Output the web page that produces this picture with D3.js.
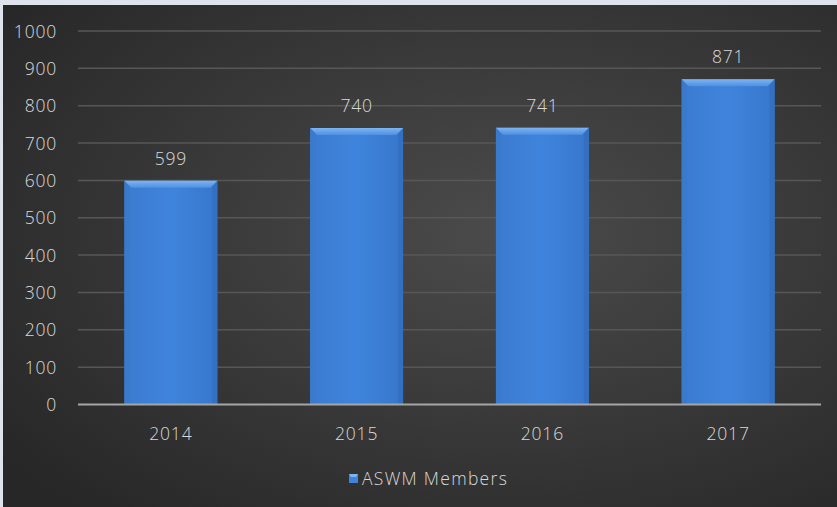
<!DOCTYPE html>
<html><head><meta charset="utf-8">
<script src="https://cdn.jsdelivr.net/npm/d3@7"></script>
<style>
html,body{margin:0;padding:0;background:#dfe4ec;}
svg{display:block;}
text{font-family:"Open Sans","Liberation Sans",sans-serif;fill:#d9d9d9;font-weight:300;}
</style></head>
<body>
<svg id="c" width="837" height="507"></svg>
<script>
const categories = ["2014","2015","2016","2017"];
const values = [599,740,741,871];
const yTicks = [0,100,200,300,400,500,600,700,800,900,1000];
const seriesName = "ASWM Members";

const svg = d3.select("#c");
const W = 837, H = 507;
const defs = svg.append("defs");
const FS = 17.5;
const LS = "0.8px";

const bgGrad = defs.append("radialGradient").attr("id","bg").attr("cx","60%").attr("cy","45%").attr("r","75%");
bgGrad.append("stop").attr("offset","0%").attr("stop-color","#4b4b4b");
bgGrad.append("stop").attr("offset","100%").attr("stop-color","#272727");

const barGrad = defs.append("linearGradient").attr("id","bar").attr("x1","0").attr("x2","1").attr("y1","0").attr("y2","0");
barGrad.append("stop").attr("offset","0%").attr("stop-color","#3b7bd0");
barGrad.append("stop").attr("offset","50%").attr("stop-color","#3f84dc");
barGrad.append("stop").attr("offset","100%").attr("stop-color","#3777cc");

const topGrad = defs.append("linearGradient").attr("id","topface").attr("x1","0").attr("x2","0").attr("y1","0").attr("y2","1");
topGrad.append("stop").attr("offset","0%").attr("stop-color","#7db4f2");
topGrad.append("stop").attr("offset","100%").attr("stop-color","#4f90e2");

svg.append("rect").attr("x",3).attr("y",5).attr("width",W-3).attr("height",H-5).attr("fill","url(#bg)");

const margin = {left:78, right:16, top:31, bottom:102};
const x = d3.scaleBand().domain(categories).range([margin.left, W-margin.right]).paddingInner(0.5).paddingOuter(0.25);
const y = d3.scaleLinear().domain([0,1000]).range([H-margin.bottom-0.5, margin.top]);

// gridlines
svg.append("g").selectAll("line").data(yTicks.filter(t=>t>0)).join("line")
  .attr("x1",margin.left).attr("x2",W-margin.right)
  .attr("y1",d=>y(d)).attr("y2",d=>y(d))
  .attr("stroke","#575757").attr("stroke-width",1.5);

// y tick labels
const yAxis = d3.axisLeft(y).tickValues(yTicks).tickFormat(d3.format("d")).tickSize(0).tickPadding(0);
const ya = svg.append("g").attr("transform",`translate(57,0)`).call(yAxis);
ya.select(".domain").remove();
ya.selectAll("text").attr("font-size",FS).attr("fill","#d9d9d9").attr("font-family","'Open Sans',sans-serif").attr("font-weight",300).attr("dy","0.35em").attr("letter-spacing",LS);

// bars
const b = 7;
const g = svg.append("g").selectAll("g").data(categories).join("g");
g.append("rect").attr("x",d=>x(d)).attr("y",(d,i)=>y(values[i]))
  .attr("width",x.bandwidth()).attr("height",(d,i)=>y(0)-y(values[i]))
  .attr("fill","url(#bar)");
g.append("path").attr("d",(d,i)=>{
  const x0=x(d), x1=x0+x.bandwidth(), y0=y(values[i]);
  return `M${x1},${y0}L${x1},${y(0)}L${x1-b+2},${y(0)}L${x1-b+2},${y0+b}Z`;
}).attr("fill","#3470c2");
g.append("path").attr("d",(d,i)=>{
  const x0=x(d), y0=y(values[i]);
  return `M${x0},${y0}L${x0+b-2},${y0+b}L${x0+b-2},${y(0)}L${x0},${y(0)}Z`;
}).attr("fill","#3a7acd");
g.append("path").attr("d",(d,i)=>{
  const x0=x(d), x1=x0+x.bandwidth(), y0=y(values[i]);
  return `M${x0},${y0}L${x1},${y0}L${x1-b},${y0+b}L${x0+b},${y0+b}Z`;
}).attr("fill","url(#topface)");

// value labels
svg.append("g").selectAll("text").data(categories).join("text")
  .attr("x",d=>x(d)+x.bandwidth()/2).attr("y",(d,i)=>y(values[i])-22)
  .attr("dy","0.35em")
  .attr("text-anchor","middle").attr("font-size",FS).attr("letter-spacing",LS)
  .text((d,i)=>values[i]);

// x axis line
svg.append("line").attr("x1",margin.left).attr("x2",W-margin.right)
  .attr("y1",y(0)).attr("y2",y(0)).attr("stroke","#a6a6a6").attr("stroke-width",2);

const xAxis = d3.axisBottom(x).tickSize(0).tickPadding(0);
const xa = svg.append("g").attr("transform",`translate(0,${y(0)+29})`).call(xAxis);
xa.select(".domain").remove();
xa.selectAll("text").attr("font-size",FS).attr("fill","#d9d9d9").attr("font-family","'Open Sans',sans-serif").attr("font-weight",300).attr("dy","0.35em").attr("letter-spacing",LS);

// legend
const lg = svg.append("g").attr("transform","translate(349,479)");
lg.append("rect").attr("x",0).attr("y",-5).attr("width",9).attr("height",9).attr("fill","#3f84dc");
lg.append("path").attr("d","M0,-5L9,-5L7,-2L2,-2Z").attr("fill","#7db4f2");
lg.append("text").attr("x",13).attr("y",0).attr("dy","0.35em").attr("font-size",FS).attr("letter-spacing","1.3px").text(seriesName);
</script>
</body></html>
